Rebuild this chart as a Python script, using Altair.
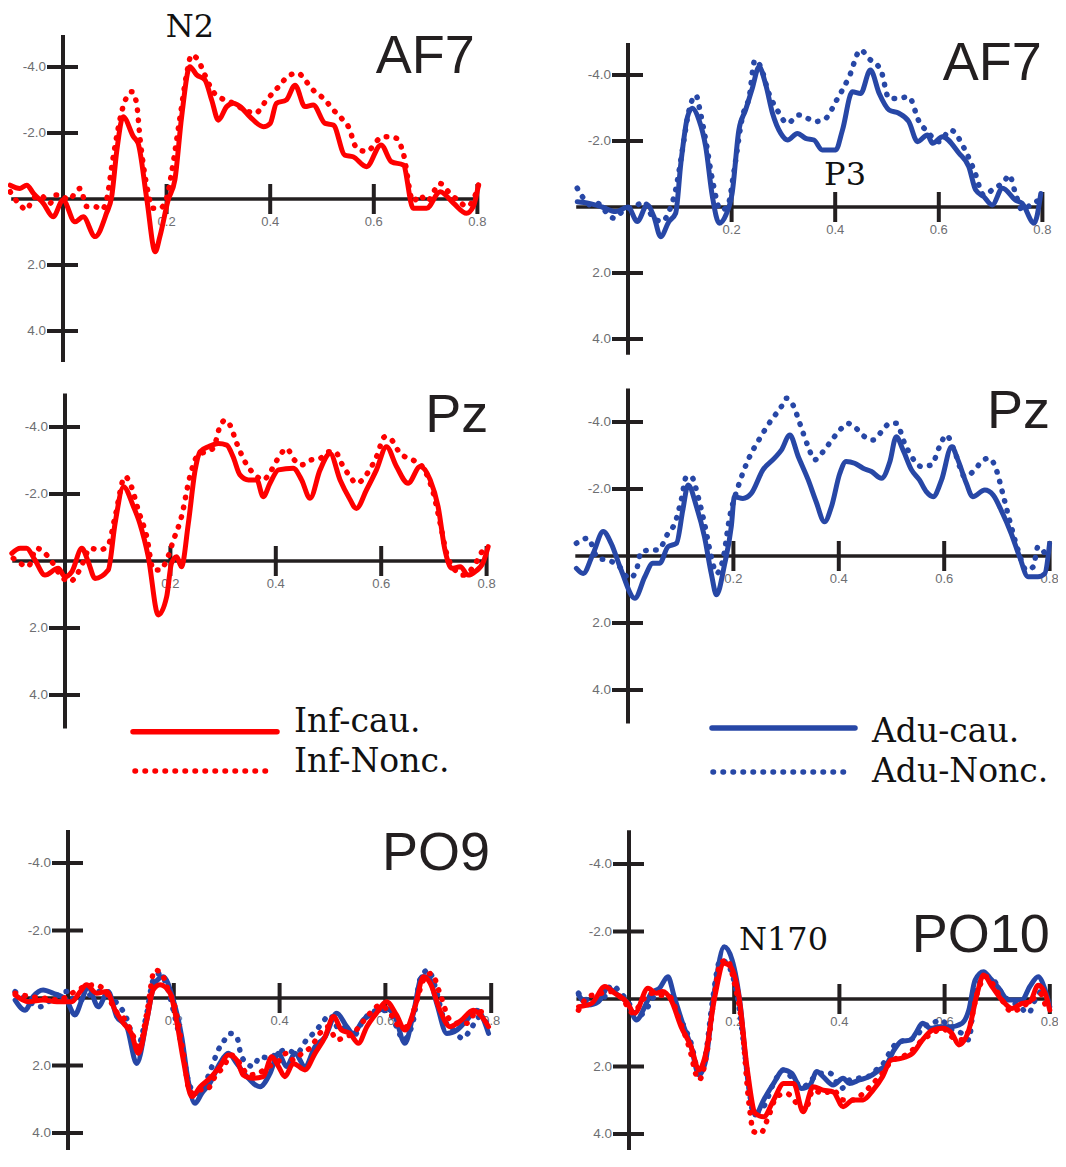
import altair as alt
import pandas as pd

# ---------------- data (time in s, amplitude in microvolts) ----------------
COND_NAMES = ["Inf-cau.", "Inf-Nonc.", "Adu-cau.", "Adu-Nonc."]
CHANNELS = ["AF7", "AF7", "Pz", "Pz", "PO9", "PO10"]
ANNOTATIONS = ["N2", "P3", "N170"]

X_TICKS = [0.2, 0.4, 0.6, 0.8]
X_TICK_LABELS = ["0.2", "0.4", "0.6", "0.8"]
Y_TICKS = [-4.0, -2.0, 2.0, 4.0]
Y_TICK_LABELS = ["-4.0", "-2.0", "2.0", "4.0"]

# AF7, infants
AF7_INF_CAU = [(-0.102,-0.42),(-0.083,-0.32),(-0.070,-0.42),(-0.057,-0.17),(-0.038,0.13),(-0.019,0.54),(0.0,0.03),(0.023,0.69),(0.039,0.54),(0.062,1.14),(0.084,0.43),(0.094,-0.07),(0.104,-1.48),(0.116,-2.49),(0.136,-1.89),(0.145,-1.69),(0.162,0.03),(0.178,1.60),(0.187,1.14),(0.203,0.03),(0.216,-0.58),(0.229,-2.49),(0.245,-4.01),(0.258,-3.76),(0.274,-3.61),(0.287,-3.0),(0.300,-2.39),(0.316,-2.80),(0.329,-2.90),(0.342,-2.80),(0.361,-2.49),(0.387,-2.19),(0.400,-2.29),(0.412,-2.90),(0.431,-3.0),(0.448,-3.45),(0.467,-2.80),(0.483,-2.85),(0.506,-2.29),(0.522,-2.24),(0.544,-1.33),(0.560,-1.28),(0.586,-0.98),(0.614,-1.64),(0.634,-1.13),(0.657,-1.03),(0.676,0.28),(0.702,0.28),(0.728,-0.22),(0.754,0.13),(0.779,0.43),(0.792,0.23),(0.802,-0.42)]
AF7_INF_NONC = [(-0.102,-0.22),(-0.083,0.18),(-0.070,0.33),(-0.060,0.03),(-0.044,-0.12),(-0.025,0.13),(-0.015,-0.12),(-0.003,-0.12),(0.010,0.03),(0.033,-0.32),(0.046,0.23),(0.062,0.23),(0.075,0.33),(0.084,0.03),(0.097,-1.28),(0.116,-2.80),(0.133,-3.25),(0.142,-2.90),(0.149,-1.79),(0.162,-0.37),(0.174,0.28),(0.187,0.28),(0.200,-0.02),(0.210,-0.83),(0.226,-2.49),(0.239,-3.81),(0.248,-4.36),(0.261,-4.21),(0.271,-3.86),(0.290,-3.25),(0.306,-3.05),(0.329,-2.90),(0.351,-2.70),(0.371,-2.60),(0.393,-3.0),(0.416,-3.40),(0.438,-3.76),(0.454,-3.81),(0.467,-3.61),(0.480,-3.35),(0.506,-3.0),(0.522,-2.70),(0.538,-2.44),(0.551,-2.19),(0.567,-1.54),(0.586,-1.44),(0.612,-1.84),(0.625,-1.89),(0.644,-1.84),(0.657,-1.38),(0.676,0.08),(0.689,-0.12),(0.702,0.08),(0.728,-0.47),(0.747,-0.17),(0.766,0.08),(0.779,0.23),(0.792,0.03),(0.802,-0.42)]

# AF7, adults
AF7_ADU_CAU = [(-0.098,-0.16),(-0.075,-0.11),(-0.050,0.0),(-0.024,0.14),(0.0,0.0),(0.018,0.44),(0.037,-0.06),(0.050,0.29),(0.063,0.90),(0.079,0.44),(0.092,0.19),(0.102,-1.32),(0.115,-2.74),(0.124,-2.99),(0.137,-2.64),(0.150,-1.83),(0.163,-0.31),(0.176,0.49),(0.189,0.24),(0.201,-0.41),(0.214,-2.33),(0.227,-2.94),(0.240,-3.60),(0.253,-4.25),(0.266,-3.70),(0.279,-2.84),(0.295,-2.23),(0.308,-2.03),(0.327,-2.23),(0.343,-2.08),(0.359,-2.03),(0.375,-1.73),(0.401,-1.73),(0.414,-2.33),(0.433,-3.49),(0.449,-3.44),(0.468,-4.15),(0.485,-3.44),(0.504,-2.94),(0.523,-2.84),(0.542,-2.59),(0.559,-1.98),(0.578,-2.18),(0.588,-1.93),(0.607,-2.13),(0.639,-1.63),(0.658,-1.22),(0.671,-0.52),(0.687,-0.31),(0.703,-0.06),(0.723,-0.57),(0.748,-0.21),(0.761,-0.11),(0.784,0.49),(0.797,-0.41)]
AF7_ADU_NONC = [(-0.098,-0.57),(-0.088,-0.31),(-0.072,-0.06),(-0.059,-0.11),(-0.043,0.14),(-0.027,0.34),(-0.011,0.14),(0.018,-0.06),(0.031,-0.16),(0.047,0.29),(0.066,0.44),(0.079,0.14),(0.092,-0.52),(0.105,-1.73),(0.118,-2.94),(0.131,-3.39),(0.140,-2.84),(0.150,-2.03),(0.163,-0.82),(0.179,0.09),(0.192,-0.01),(0.205,-1.12),(0.221,-2.74),(0.234,-3.34),(0.245,-4.45),(0.256,-4.25),(0.272,-3.44),(0.288,-2.94),(0.308,-2.54),(0.330,-2.79),(0.346,-2.69),(0.362,-2.59),(0.382,-2.69),(0.401,-3.19),(0.427,-3.95),(0.449,-4.76),(0.465,-4.50),(0.488,-4.15),(0.504,-3.29),(0.520,-3.29),(0.542,-3.34),(0.562,-2.59),(0.578,-2.28),(0.600,-1.98),(0.623,-2.33),(0.649,-1.78),(0.668,-1.12),(0.687,-0.36),(0.707,-0.57),(0.726,-0.77),(0.736,-0.97),(0.748,-0.41),(0.761,0.09),(0.781,-0.11),(0.794,-0.21)]

# Pz, infants
PZ_INF_CAU = [(-0.101,-0.23),(-0.085,-0.38),(-0.073,-0.38),(-0.057,-0.03),(-0.038,0.42),(-0.013,0.22),(0.0,0.47),(0.013,0.32),(0.032,-0.38),(0.044,0.02),(0.057,0.52),(0.082,0.27),(0.095,-1.12),(0.111,-2.22),(0.130,-1.62),(0.142,-1.12),(0.158,-0.13),(0.177,1.61),(0.193,1.06),(0.202,0.07),(0.212,-0.13),(0.221,0.17),(0.234,-1.12),(0.247,-2.72),(0.256,-3.26),(0.272,-3.41),(0.291,-3.51),(0.307,-3.46),(0.319,-3.11),(0.332,-2.57),(0.348,-2.42),(0.364,-2.42),(0.376,-1.92),(0.389,-2.32),(0.405,-2.72),(0.433,-2.77),(0.449,-2.42),(0.465,-1.87),(0.484,-2.72),(0.503,-3.21),(0.522,-2.42),(0.538,-1.92),(0.553,-1.57),(0.572,-2.12),(0.591,-2.72),(0.610,-3.41),(0.629,-2.82),(0.651,-2.32),(0.674,-2.82),(0.693,-2.42),(0.708,-1.62),(0.721,-0.33),(0.734,0.22),(0.750,0.17),(0.765,0.42),(0.778,0.32),(0.794,0.02),(0.803,-0.43)]
PZ_INF_NONC = [(-0.098,-0.08),(-0.085,0.07),(-0.070,0.17),(-0.054,-0.38),(-0.038,-0.23),(-0.025,0.02),(-0.009,0.42),(0.009,0.62),(0.022,0.42),(0.035,0.02),(0.047,-0.38),(0.066,-0.33),(0.082,-0.48),(0.095,-1.32),(0.114,-2.52),(0.126,-2.22),(0.139,-1.52),(0.155,-0.73),(0.168,0.27),(0.180,0.27),(0.193,-0.03),(0.206,-0.63),(0.221,-1.32),(0.237,-2.52),(0.250,-3.11),(0.266,-3.26),(0.281,-3.36),(0.294,-4.01),(0.304,-4.21),(0.313,-4.06),(0.326,-3.51),(0.345,-2.87),(0.361,-2.57),(0.376,-2.42),(0.392,-2.72),(0.408,-3.16),(0.421,-3.36),(0.433,-3.06),(0.449,-2.87),(0.465,-3.01),(0.484,-3.06),(0.500,-3.26),(0.512,-3.26),(0.528,-2.82),(0.541,-2.52),(0.553,-2.32),(0.576,-2.67),(0.591,-3.11),(0.607,-3.71),(0.620,-3.61),(0.636,-3.21),(0.661,-3.01),(0.680,-2.77),(0.699,-2.02),(0.712,-1.12),(0.724,-0.23),(0.740,0.27),(0.756,0.42),(0.775,0.17),(0.791,-0.28)]

# Pz, adults
PZ_ADU_CAU = [(-0.098,0.37),(-0.085,0.52),(-0.066,-0.08),(-0.047,-0.73),(-0.032,-0.38),(-0.013,0.42),(0.013,1.26),(0.032,0.62),(0.047,0.22),(0.060,0.22),(0.076,-0.28),(0.092,-0.38),(0.104,-1.37),(0.114,-2.12),(0.130,-1.47),(0.145,-0.58),(0.158,0.52),(0.168,1.16),(0.183,0.27),(0.196,-0.88),(0.202,-1.77),(0.218,-1.72),(0.234,-1.87),(0.256,-2.57),(0.278,-2.92),(0.291,-3.16),(0.307,-3.61),(0.323,-2.97),(0.342,-2.27),(0.357,-1.62),(0.373,-1.02),(0.386,-1.47),(0.402,-2.47),(0.414,-2.82),(0.430,-2.77),(0.446,-2.62),(0.462,-2.52),(0.481,-2.32),(0.497,-2.82),(0.509,-3.56),(0.522,-3.16),(0.538,-2.57),(0.553,-2.27),(0.566,-1.92),(0.579,-1.77),(0.595,-2.27),(0.614,-3.26),(0.626,-2.87),(0.642,-2.17),(0.654,-1.77),(0.677,-1.97),(0.693,-1.82),(0.708,-1.37),(0.727,-0.68),(0.743,0.02),(0.759,0.62),(0.778,0.62),(0.791,0.52),(0.800,-0.38)]
PZ_ADU_NONC = [(-0.098,-0.38),(-0.076,-0.53),(-0.057,0.07),(-0.041,0.12),(-0.019,0.27),(0.003,0.67),(0.016,0.42),(0.025,-0.13),(0.047,-0.18),(0.057,-0.18),(0.076,-0.68),(0.089,-0.98),(0.101,-1.67),(0.111,-2.37),(0.120,-2.37),(0.133,-1.77),(0.145,-0.98),(0.158,0.02),(0.168,0.52),(0.180,0.12),(0.193,-1.17),(0.209,-2.07),(0.228,-2.87),(0.250,-3.51),(0.272,-4.06),(0.291,-4.46),(0.300,-4.71),(0.313,-4.51),(0.326,-3.96),(0.342,-3.26),(0.354,-2.87),(0.370,-3.11),(0.389,-3.51),(0.405,-3.81),(0.417,-3.96),(0.433,-3.81),(0.449,-3.56),(0.465,-3.46),(0.481,-3.71),(0.497,-3.96),(0.509,-3.96),(0.525,-3.36),(0.538,-2.97),(0.557,-2.67),(0.576,-2.72),(0.591,-3.26),(0.604,-3.61),(0.620,-3.11),(0.639,-2.37),(0.658,-2.57),(0.674,-2.87),(0.686,-2.92),(0.699,-2.57),(0.711,-1.87),(0.724,-1.07),(0.740,-0.18),(0.756,0.42),(0.769,0.32),(0.778,-0.28),(0.791,-0.08)]

# PO9, all four conditions
PO9_ADU_CAU = [(-0.100,0.06),(-0.081,0.36),(-0.066,-0.04),(-0.047,-0.24),(-0.028,-0.14),(-0.003,0.06),(0.013,0.50),(0.026,0.06),(0.038,-0.34),(0.057,0.26),(0.076,-0.19),(0.092,0.55),(0.111,0.85),(0.130,1.94),(0.149,0.65),(0.164,-0.43),(0.180,-0.63),(0.199,0.06),(0.215,1.15),(0.227,2.43),(0.240,3.12),(0.253,2.82),(0.268,2.53),(0.287,1.94),(0.303,1.64),(0.319,1.94),(0.338,2.33),(0.363,2.63),(0.382,2.23),(0.398,1.64),(0.413,2.03),(0.429,1.64),(0.448,2.03),(0.467,1.44),(0.486,1.15),(0.508,0.45),(0.527,0.85),(0.539,1.05),(0.558,0.65),(0.577,0.45),(0.602,0.31),(0.618,0.55),(0.637,1.34),(0.653,0.45),(0.669,-0.63),(0.681,-0.63),(0.697,0.16),(0.716,1.05),(0.735,0.95),(0.754,0.65),(0.773,0.36),(0.795,1.05)]
PO9_ADU_NONC = [(-0.100,-0.19),(-0.078,0.06),(-0.053,0.26),(-0.028,0.01),(-0.003,-0.19),(0.016,0.11),(0.035,-0.04),(0.060,-0.19),(0.079,-0.04),(0.098,0.26),(0.108,0.50),(0.120,1.05),(0.130,1.64),(0.139,1.15),(0.149,0.45),(0.161,-0.53),(0.174,-0.73),(0.187,-0.34),(0.199,0.36),(0.215,1.44),(0.231,2.63),(0.243,2.82),(0.256,2.63),(0.272,2.03),(0.284,1.54),(0.294,1.29),(0.306,1.05),(0.319,1.15),(0.328,1.74),(0.350,2.03),(0.363,1.74),(0.382,1.79),(0.394,1.64),(0.413,1.54),(0.432,1.64),(0.451,1.24),(0.467,1.0),(0.480,0.75),(0.495,0.50),(0.514,0.95),(0.527,0.85),(0.539,1.15),(0.555,0.75),(0.571,0.45),(0.590,0.36),(0.606,0.40),(0.621,0.85),(0.634,1.24),(0.653,0.65),(0.665,-0.53),(0.681,-0.83),(0.694,-0.34),(0.709,0.55),(0.728,0.95),(0.747,1.20),(0.760,0.95),(0.779,0.55),(0.795,0.85)]
PO9_INF_CAU = [(-0.100,-0.09),(-0.075,0.11),(-0.047,0.06),(-0.021,0.11),(0.007,0.11),(0.023,-0.19),(0.035,-0.39),(0.054,-0.14),(0.073,-0.19),(0.089,0.36),(0.105,0.75),(0.120,1.05),(0.133,1.64),(0.149,0.65),(0.161,-0.24),(0.174,-0.39),(0.193,-0.14),(0.205,0.65),(0.218,1.84),(0.234,2.92),(0.250,2.63),(0.268,2.38),(0.287,2.03),(0.303,1.69),(0.319,1.84),(0.331,2.28),(0.350,2.38),(0.369,2.33),(0.385,1.74),(0.398,2.03),(0.410,2.33),(0.426,1.94),(0.448,2.13),(0.467,1.64),(0.486,1.15),(0.502,0.55),(0.517,0.95),(0.533,1.05),(0.549,1.34),(0.565,0.85),(0.583,0.45),(0.602,0.11),(0.621,0.50),(0.637,0.95),(0.656,0.26),(0.672,-0.63),(0.685,-0.43),(0.703,0.36),(0.722,0.85),(0.744,0.65),(0.766,0.36),(0.782,0.55),(0.795,0.85)]
PO9_INF_NONC = [(-0.100,-0.14),(-0.072,-0.04),(-0.043,0.01),(-0.018,0.06),(0.007,-0.14),(0.032,-0.34),(0.051,-0.39),(0.073,-0.14),(0.089,0.36),(0.108,0.65),(0.124,1.15),(0.133,1.54),(0.149,0.45),(0.164,-0.83),(0.177,-0.73),(0.187,-0.34),(0.202,0.26),(0.218,1.64),(0.231,2.82),(0.246,2.72),(0.262,2.72),(0.278,2.33),(0.294,2.03),(0.309,1.69),(0.325,1.94),(0.341,2.28),(0.360,2.23),(0.379,2.03),(0.394,1.94),(0.413,1.64),(0.426,1.84),(0.442,1.64),(0.460,1.44),(0.476,1.05),(0.492,0.85),(0.508,1.24),(0.524,1.15),(0.539,1.05),(0.555,0.75),(0.571,0.45),(0.590,0.21),(0.609,0.45),(0.624,0.80),(0.643,0.85),(0.656,0.26),(0.672,-0.53),(0.687,-0.73),(0.703,-0.14),(0.722,0.65),(0.738,0.75),(0.754,0.75),(0.773,0.40),(0.795,0.45)]

# PO10, all four conditions
PO10_ADU_CAU = [(-0.096,-0.12),(-0.077,0.18),(-0.058,0.08),(-0.040,-0.32),(-0.021,-0.12),(-0.002,0.13),(0.014,0.62),(0.030,0.23),(0.042,-0.17),(0.058,-0.32),(0.074,-0.66),(0.086,-0.07),(0.102,0.72),(0.118,1.41),(0.133,2.25),(0.146,1.81),(0.162,-0.17),(0.181,-1.55),(0.196,-1.16),(0.212,0.23),(0.225,2.30),(0.240,3.44),(0.256,2.99),(0.275,2.50),(0.294,2.10),(0.309,2.20),(0.328,2.65),(0.344,2.55),(0.357,2.15),(0.369,2.30),(0.388,2.55),(0.407,2.35),(0.419,2.50),(0.438,2.40),(0.457,2.30),(0.476,2.10),(0.489,1.96),(0.504,1.51),(0.517,1.26),(0.536,1.21),(0.545,1.02),(0.558,0.72),(0.574,0.87),(0.589,0.82),(0.611,0.82),(0.633,0.72),(0.646,0.33),(0.658,-0.56),(0.674,-0.81),(0.687,-0.61),(0.703,-0.32),(0.721,0.03),(0.747,0.03),(0.762,-0.37),(0.778,-0.66),(0.791,-0.27),(0.800,0.23)]
PO10_ADU_NONC = [(-0.096,-0.17),(-0.077,0.03),(-0.052,0.03),(-0.033,-0.41),(-0.018,-0.22),(-0.002,0.08),(0.017,0.52),(0.036,0.23),(0.048,-0.07),(0.067,-0.17),(0.083,0.03),(0.099,0.62),(0.118,1.31),(0.133,2.15),(0.146,1.61),(0.158,0.13),(0.174,-1.16),(0.190,-0.96),(0.206,-0.07),(0.225,2.20),(0.237,3.39),(0.256,3.19),(0.275,2.50),(0.294,2.10),(0.313,2.40),(0.331,2.60),(0.350,2.35),(0.363,2.20),(0.382,2.20),(0.404,2.65),(0.419,2.40),(0.435,2.35),(0.454,2.30),(0.470,2.10),(0.486,1.86),(0.498,1.51),(0.514,1.26),(0.533,1.21),(0.545,1.12),(0.561,0.82),(0.577,0.72),(0.592,0.62),(0.614,0.92),(0.633,1.02),(0.646,1.21),(0.658,-0.17),(0.679,-0.66),(0.693,-0.56),(0.709,-0.17),(0.725,0.08),(0.740,0.18),(0.759,0.42),(0.775,-0.07),(0.791,-0.37)]
PO10_INF_CAU = [(-0.096,0.23),(-0.071,0.13),(-0.046,-0.37),(-0.027,-0.17),(-0.005,0.08),(0.011,0.42),(0.036,-0.32),(0.052,-0.17),(0.064,-0.22),(0.080,0.03),(0.099,0.82),(0.118,1.41),(0.133,2.10),(0.146,1.61),(0.162,0.03),(0.181,-1.06),(0.193,-0.96),(0.209,-0.07),(0.225,2.10),(0.240,3.39),(0.256,3.49),(0.275,2.99),(0.294,2.50),(0.313,2.50),(0.331,3.34),(0.350,2.60),(0.369,2.70),(0.388,2.75),(0.407,3.19),(0.426,2.99),(0.445,2.99),(0.464,2.70),(0.482,2.30),(0.498,1.81),(0.517,1.76),(0.539,1.61),(0.558,1.21),(0.577,0.92),(0.596,0.87),(0.614,1.02),(0.627,1.36),(0.646,0.92),(0.662,-0.17),(0.674,-0.71),(0.690,-0.37),(0.709,0.03),(0.728,0.28),(0.747,0.13),(0.762,0.08),(0.778,-0.41),(0.791,-0.17),(0.800,0.33)]
PO10_INF_NONC = [(-0.096,0.33),(-0.077,-0.07),(-0.052,-0.17),(-0.033,-0.22),(-0.011,0.03),(0.008,0.42),(0.026,0.03),(0.042,-0.17),(0.058,-0.12),(0.077,-0.07),(0.096,0.62),(0.114,1.41),(0.133,2.40),(0.149,1.51),(0.162,-0.07),(0.174,-1.06),(0.187,-1.16),(0.199,-0.56),(0.215,0.82),(0.228,3.09),(0.237,3.93),(0.250,3.98),(0.265,3.49),(0.281,2.89),(0.300,2.80),(0.319,3.09),(0.335,3.29),(0.350,2.70),(0.369,2.80),(0.388,2.70),(0.407,2.99),(0.426,2.99),(0.445,2.80),(0.464,2.50),(0.482,2.20),(0.501,1.81),(0.520,1.71),(0.539,1.51),(0.558,1.21),(0.577,1.02),(0.596,0.87),(0.614,1.12),(0.633,1.21),(0.646,0.92),(0.662,-0.17),(0.679,-0.66),(0.693,-0.41),(0.709,0.03),(0.728,0.38),(0.747,0.23),(0.766,0.03),(0.781,-0.17),(0.794,0.33)]

# ---------------- styles & layout ----------------
RED = "#fe0000"
BLUE = "#2747a6"
INK = "#231f20"
GREY = "#6d6e71"
SANS = "Liberation Sans"
SERIF = "DejaVu Serif"

STYLE = {
    "Inf-cau.": (RED, False),
    "Inf-Nonc.": (RED, True),
    "Adu-cau.": (BLUE, False),
    "Adu-Nonc.": (BLUE, True),
}

# page-pixel geometry of each panel box, its origin (time 0 / 0 uV) and scale factors
COLS = {"L": (8, 500), "R": (568, 1058)}
ROWS = {1: (8, 375), 2: (375, 805), 3: (805, 1150)}

PANELS = [
    dict(row=1, col="L", x0=63, kx=518, y0=199, ky=33.0, axis=(-4.97, 4.94), channel=CHANNELS[0],
         chan_pos=(0.795, -3.82), series=[("Inf-Nonc.", AF7_INF_NONC), ("Inf-cau.", AF7_INF_CAU)],
         note=(ANNOTATIONS[0], 0.245, -4.9, "center")),
    dict(row=1, col="R", x0=628, kx=518, y0=207, ky=33.0, axis=(-4.97, 4.48), channel=CHANNELS[1],
         chan_pos=(0.799, -3.85), series=[("Adu-Nonc.", AF7_ADU_NONC), ("Adu-cau.", AF7_ADU_CAU)],
         note=(ANNOTATIONS[1], 0.419, -0.67, "center")),
    dict(row=2, col="L", x0=65, kx=527, y0=561, ky=33.5, axis=(-5.0, 5.0), channel=CHANNELS[2],
         chan_pos=(0.803, -3.85), series=[("Inf-Nonc.", PZ_INF_NONC), ("Inf-cau.", PZ_INF_CAU)],
         legend=dict(names=["Inf-cau.", "Inf-Nonc."], solid=(125, 269, 356.7), dotted=(127, 262, 396),
                     text_x=286, text_y=(357, 397))),
    dict(row=2, col="R", x0=628, kx=527, y0=556, ky=33.5, axis=(-5.0, 5.0), channel=CHANNELS[3],
         chan_pos=(0.801, -3.82), series=[("Adu-Nonc.", PZ_ADU_NONC), ("Adu-cau.", PZ_ADU_CAU)],
         legend=dict(names=["Adu-cau.", "Adu-Nonc."], solid=(144, 287, 353), dotted=(145, 280, 397),
                     text_x=304, text_y=(367, 407))),
    dict(row=3, col="L", x0=68, kx=529, y0=998, ky=33.75, axis=(-4.98, 6.0), channel=CHANNELS[4],
         chan_pos=(0.798, -3.79),
         series=[("Adu-Nonc.", PO9_ADU_NONC), ("Adu-cau.", PO9_ADU_CAU),
                 ("Inf-cau.", PO9_INF_CAU), ("Inf-Nonc.", PO9_INF_NONC)]),
    dict(row=3, col="R", x0=629, kx=526, y0=999, ky=33.75, axis=(-5.0, 6.0), channel=CHANNELS[5],
         chan_pos=(0.800, -1.39),
         series=[("Adu-Nonc.", PO10_ADU_NONC), ("Adu-cau.", PO10_ADU_CAU),
                 ("Inf-cau.", PO10_INF_CAU), ("Inf-Nonc.", PO10_INF_NONC)],
         note=(ANNOTATIONS[2], 0.209, -1.45, "left")),
]

DOT_DASH = [0.5, 9.5]


def build_panel(p):
    left, right = COLS[p["col"]]
    top, bottom = ROWS[p["row"]]
    xs = alt.Scale(domain=[(left - p["x0"]) / p["kx"], (right - p["x0"]) / p["kx"]], nice=False, zero=False)
    ys = alt.Scale(domain=[(top - p["y0"]) / p["ky"], (bottom - p["y0"]) / p["ky"]],
                   reverse=True, nice=False, zero=False)

    def X(f):
        return alt.X(f, type="quantitative", scale=xs, axis=None)

    def Y(f):
        return alt.Y(f, type="quantitative", scale=ys, axis=None)

    layers = []
    # x axis line
    layers.append(alt.Chart(pd.DataFrame({"t": [-0.1], "t2": [0.8], "z": [0.0]}))
                  .mark_rule(color=INK, strokeWidth=3.5, clip=True)
                  .encode(x=X("t"), x2="t2", y=Y("z")))
    # y axis line
    layers.append(alt.Chart(pd.DataFrame({"z": [0.0], "v1": [p["axis"][0]], "v2": [p["axis"][1]]}))
                  .mark_rule(color=INK, strokeWidth=4, clip=True)
                  .encode(x=X("z"), y=Y("v1"), y2="v2"))
    # x ticks + labels
    xt = pd.DataFrame({"t": X_TICKS, "z": [0.0] * len(X_TICKS), "label": X_TICK_LABELS})
    layers.append(alt.Chart(xt).mark_rule(color=INK, strokeWidth=4, yOffset=-15, y2Offset=15, clip=True)
                  .encode(x=X("t"), y=Y("z"), y2="z"))
    layers.append(alt.Chart(xt).mark_text(color=GREY, font=SANS, fontSize=13, align="center",
                                          baseline="alphabetic", dy=27, clip=True)
                  .encode(x=X("t"), y=Y("z"), text="label:N"))
    # y ticks + labels
    yt = pd.DataFrame({"v": Y_TICKS, "z": [0.0] * len(Y_TICKS), "label": Y_TICK_LABELS})
    layers.append(alt.Chart(yt).mark_rule(color=INK, strokeWidth=4, xOffset=-16, x2Offset=15, clip=True)
                  .encode(x=X("z"), x2="z", y=Y("v")))
    layers.append(alt.Chart(yt).mark_text(color=GREY, font=SANS, fontSize=13.5, align="right",
                                          baseline="middle", dx=-17, clip=True)
                  .encode(x=X("z"), y=Y("v"), text="label:N"))

    # ERP curves
    for name, pairs in p["series"]:
        color, dotted = STYLE[name]
        df = pd.DataFrame(pairs, columns=["t", "v"])
        df["cond"] = name
        kw = dict(color=color, strokeWidth=5, interpolate="monotone", clip=True,
                  strokeCap="round", strokeJoin="round")
        if dotted:
            kw.update(strokeDash=DOT_DASH, strokeWidth=5.5)
        layers.append(alt.Chart(df).mark_line(**kw).encode(x=X("t"), y=Y("v"), detail="cond:N"))

    # channel label
    cx, cy = p["chan_pos"]
    layers.append(alt.Chart(pd.DataFrame({"t": [cx], "v": [cy], "label": [p["channel"]]}))
                  .mark_text(color=INK, font=SANS, fontSize=54, align="right", baseline="alphabetic", clip=True)
                  .encode(x=X("t"), y=Y("v"), text="label:N"))

    # component annotation
    if "note" in p:
        txt, nx, ny, al = p["note"]
        layers.append(alt.Chart(pd.DataFrame({"t": [nx], "v": [ny], "label": [txt]}))
                      .mark_text(color="#111111", font=SERIF, fontSize=32, align=al, baseline="alphabetic",
                                 clip=True)
                      .encode(x=X("t"), y=Y("v"), text="label:N"))

    # legend
    if "legend" in p:
        lg = p["legend"]
        for i, name in enumerate(lg["names"]):
            color, dotted = STYLE[name]
            x1, x2, yy = lg["dotted"] if dotted else lg["solid"]
            kw = dict(color=color, strokeWidth=5.5, strokeCap="round")
            if dotted:
                kw.update(strokeDash=DOT_DASH)
            one = pd.DataFrame({"label": [name]})
            layers.append(alt.Chart(one).mark_rule(**kw)
                          .encode(x=alt.value(x1), x2=alt.value(x2), y=alt.value(yy)))
            layers.append(alt.Chart(one).mark_text(color="#111111", font=SERIF, fontSize=33, align="left",
                                                   baseline="alphabetic")
                          .encode(x=alt.value(lg["text_x"]), y=alt.value(lg["text_y"][i]), text="label:N"))

    return alt.layer(*layers).properties(width=right - left, height=bottom - top)


panels = [build_panel(p) for p in PANELS]
gap = COLS["R"][0] - COLS["L"][1]
rows = [alt.hconcat(panels[i], panels[i + 1], spacing=gap) for i in (0, 2, 4)]

chart = (alt.vconcat(*rows, spacing=0)
         .properties(padding=0, background="white")
         .configure_view(stroke=None))

chart.save("out.html", embed_options={"renderer": "svg", "actions": False})
